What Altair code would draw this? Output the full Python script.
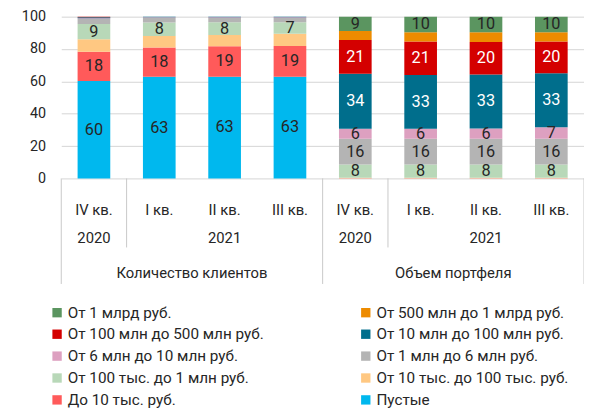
import altair as alt
import pandas as pd

# Stack order: bottom -> top
series = [
    "Пустые",
    "До 10 тыс. руб.",
    "От 10 тыс. до 100 тыс. руб.",
    "От 100 тыс. до 1 млн руб.",
    "От 1 млн до 6 млн руб.",
    "От 6 млн до 10 млн руб.",
    "От 10 млн до 100 млн руб.",
    "От 100 млн до 500 млн руб.",
    "От 500 млн до 1 млрд руб.",
    "От 1 млрд руб.",
]
colors = ["#00B8EE", "#FF5A5A", "#FFC882", "#B8D8B8", "#B4B4B4",
          "#DDA0C0", "#006E8C", "#D40000", "#ED8B00", "#5B9560"]
labeled = [True, True, False, True, True, True, True, True, False, True]
white_label = [False, False, False, False, False, False, True, True, False, False]

groups = ["Количество клиентов", "Объем портфеля"]
quarters = ["IV кв.", "I кв.", "II кв.", "III кв."]
years = ["2020", "2021", "2021", "2021"]

# values per quarter, in series order (bottom -> top)
clients = [
    [60.2, 18.1, 7.8, 9.3, 3.2, 0.5, 0.6, 0.2, 0.05, 0.05],
    [62.8, 18.2, 7.0, 8.4, 2.9, 0.4, 0.2, 0.07, 0.02, 0.01],
    [62.9, 18.8, 6.9, 8.0, 2.6, 0.5, 0.2, 0.06, 0.02, 0.02],
    [62.9, 18.9, 7.6, 7.2, 2.6, 0.5, 0.2, 0.06, 0.02, 0.02],
]
portfolio = [
    [0.0, 0.1, 0.3, 8.2, 15.9, 6.2, 34.0, 20.9, 5.6, 8.8],
    [0.0, 0.1, 0.3, 8.2, 15.9, 6.2, 33.3, 20.6, 5.8, 9.6],
    [0.0, 0.1, 0.3, 8.2, 15.9, 6.4, 33.4, 20.0, 6.1, 9.6],
    [0.0, 0.1, 0.3, 8.2, 15.9, 7.1, 33.4, 19.6, 5.8, 9.6],
]

FONT = "Roboto"
TXT = "#262626"

rows = []
qrows = []
for g_idx, (gname, table) in enumerate(zip(groups, [clients, portfolio])):
    for q_idx, vals in enumerate(table):
        pos = g_idx * len(quarters) + q_idx
        qrows.append({"pos": pos, "group": gname, "quarter": quarters[q_idx], "year": years[q_idx]})
        for s_idx, v in enumerate(vals):
            rows.append({
                "pos": pos, "series": series[s_idx], "order": s_idx, "value": v,
                "labeled": labeled[s_idx] and v >= 5,
                "tc": "white" if white_label[s_idx] else TXT,
            })
df = pd.DataFrame(rows)
dq = pd.DataFrame(qrows)
n_pos = len(dq)

# year spans and group spans
dy = dq.groupby(["group", "year"], sort=False).agg(lo=("pos", "min"), hi=("pos", "max")).reset_index()
dy["xc"] = (dy["lo"] + dy["hi"] + 1) / 2
dg = dq.groupby("group", sort=False).agg(lo=("pos", "min"), hi=("pos", "max")).reset_index()
dg["xc"] = (dg["lo"] + dg["hi"] + 1) / 2

long_x = sorted(set(dg["lo"].tolist() + [n_pos]))
short_x = sorted(set(dy["lo"].tolist()) - set(long_x))
dsep_long = pd.DataFrame({"x": long_x})
dsep_short = pd.DataFrame({"x": short_x})

H = 164
xscale = alt.Scale(domain=[0, n_pos], nice=False, zero=False)
yscale = alt.Scale(domain=[0, 100], nice=False)
yaxis = alt.Axis(values=[0, 20, 40, 60, 80, 100], grid=True, gridColor="#d4d4d4",
                 domain=False, ticks=False, labelPadding=16, labelFont=FONT,
                 labelFontSize=14.5, labelColor=TXT, labelOverlap=False,
                 labelBound=False, title=None)

base = alt.Chart(df).transform_stack(
    stack="value", groupby=["pos"], sort=[alt.SortField("order")], as_=["y0", "y1"]
).transform_calculate(
    xa="datum.pos + 0.25", xb="datum.pos + 0.75", xm="datum.pos + 0.5",
    ym="(datum.y0 + datum.y1) / 2",
)

bars = base.mark_bar().encode(
    x=alt.X("xa:Q", scale=xscale, axis=None),
    x2="xb:Q",
    y=alt.Y("y0:Q", scale=yscale, axis=yaxis),
    y2="y1:Q",
    color=alt.Color("series:N",
                    scale=alt.Scale(domain=series[::-1], range=colors[::-1]),
                    legend=alt.Legend(
                        title=None, orient="none", legendX=-12, legendY=292, columns=2,
                        direction="horizontal",
                        symbolType="square", symbolSize=90, symbolStrokeWidth=0,
                        labelFont=FONT, labelFontSize=15.5, labelColor=TXT,
                        labelOffset=3, rowPadding=5.2, columnPadding=95, labelLimit=400,
                        padding=0)),
)

labels = base.transform_filter("datum.labeled").mark_text(
    font=FONT, fontSize=16.5, baseline="middle", align="center"
).encode(
    x=alt.X("xm:Q", scale=xscale, axis=None),
    y=alt.Y("ym:Q", scale=yscale, axis=yaxis),
    text=alt.Text("value:Q", format=".0f"),
    color=alt.Color("tc:N", scale=None),
)

qlab = alt.Chart(dq).transform_calculate(xm="datum.pos + 0.5").mark_text(
    font=FONT, fontSize=15, color=TXT, baseline="middle"
).encode(x=alt.X("xm:Q", scale=xscale, axis=None), y=alt.value(196), text="quarter:N")

ylab = alt.Chart(dy).mark_text(
    font=FONT, fontSize=15, color=TXT, baseline="middle"
).encode(x=alt.X("xc:Q", scale=xscale, axis=None), y=alt.value(224), text="year:N")

glab = alt.Chart(dg).mark_text(
    font=FONT, fontSize=15, color=TXT, baseline="middle"
).encode(x=alt.X("xc:Q", scale=xscale, axis=None), y=alt.value(260), text="group:N")

sep_long = alt.Chart(dsep_long).mark_rule(color="#c8c8c8", strokeWidth=1).encode(
    x=alt.X("x:Q", scale=xscale, axis=None), y=alt.value(H), y2=alt.value(271))
sep_short = alt.Chart(dsep_short).mark_rule(color="#c8c8c8", strokeWidth=1).encode(
    x=alt.X("x:Q", scale=xscale, axis=None), y=alt.value(H), y2=alt.value(234))

chart = alt.layer(bars, labels, sep_long, sep_short, qlab, ylab, glab).properties(
    width=530, height=H,
    autosize=alt.AutoSizeParams(type="none"),
    padding={"left": 54, "top": 6, "right": 0, "bottom": 232},
).configure_view(strokeWidth=0).configure_axisY(labelOverlap=False)

chart.save("out.html", embed_options={"renderer": "svg", "actions": False})
